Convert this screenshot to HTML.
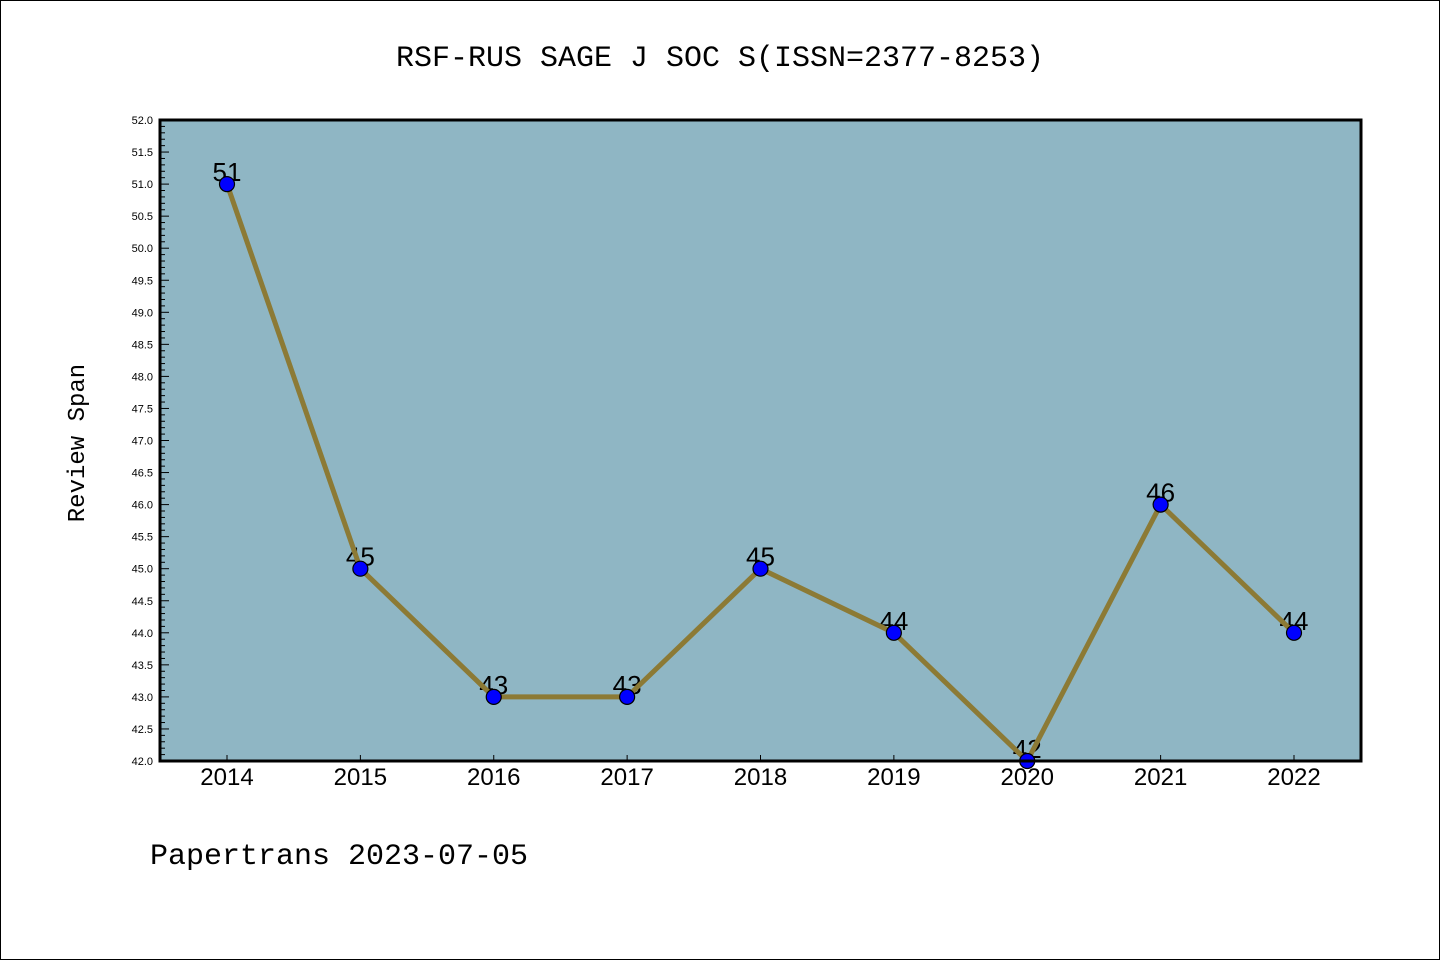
<!DOCTYPE html>
<html><head><meta charset="utf-8"><style>
body{margin:0;background:#fff;}
svg{display:block;font-family:"Liberation Sans","DejaVu Sans",sans-serif;}
</style></head><body>
<svg id="c" width="1440" height="960" viewBox="0 0 1440 960">
<rect x="0.5" y="0.5" width="1439" height="959" fill="#fff" stroke="#000" stroke-width="1"/>
<text x="720" y="66" text-anchor="middle" font-size="30" font-family="Liberation Mono, DejaVu Sans Mono, monospace">RSF-RUS SAGE J SOC S(ISSN=2377-8253)</text>
<rect x="160" y="120" width="1201" height="641" fill="#8fb6c4"/>
<g id="yaxis"></g>
<g id="xaxis"></g>
<g id="labels"></g>
<g id="series"></g>
<rect x="160" y="120" width="1201" height="641" fill="none" stroke="#000" stroke-width="3"/>
<text transform="translate(84,443) rotate(-90)" text-anchor="middle" font-size="24" font-family="Liberation Mono, DejaVu Sans Mono, monospace">Review Span</text>
<text x="150" y="864" font-size="30" font-family="Liberation Mono, DejaVu Sans Mono, monospace">Papertrans 2023-07-05</text>
</svg>
<script>
const years = [2014,2015,2016,2017,2018,2019,2020,2021,2022];
const values = [51,45,43,43,45,44,42,46,44];
const yMin = 42, yMax = 52;
const NS = "http://www.w3.org/2000/svg";
function sx(i){ return 227 + i*(1294-227)/(years.length-1); }
function sy(v){ return 761 - (v-yMin)*(641/(yMax-yMin)); }
function mk(tag, attrs, parent){ const e=document.createElementNS(NS,tag); for(const k in attrs) e.setAttribute(k,attrs[k]); parent.appendChild(e); return e; }
const ya=document.getElementById('yaxis');
for(let k=0;k<=100;k++){
  const v=yMin+k*0.1, y=sy(v), major=(k%5===0);
  const t=mk('line',{x1:160,x2:160+(major?9:5),y1:y,y2:y,stroke:'#000','stroke-width':1},ya);
  
  
  if(major){
    const l=mk('text',{x:153,y:y+4,'text-anchor':'end','font-size':11},ya);
    l.textContent=v.toFixed(1);
    
    
  }
}
const xa=document.getElementById('xaxis');
years.forEach((yr,i)=>{
  const t=mk('line',{x1:sx(i),x2:sx(i),y1:761,y2:755,stroke:'#000','stroke-width':1},xa);
  
  
  const l=mk('text',{x:sx(i),y:785,'text-anchor':'middle','font-size':24},xa);
  l.textContent=yr;
  
  
});
const lb=document.getElementById('labels');
values.forEach((v,i)=>{
  const l=mk('text',{x:sx(i),y:sy(v)-3,'text-anchor':'middle','font-size':26},lb);
  l.textContent=v;
  
  
});
const sr=document.getElementById('series');
const line=mk('polyline',{points:values.map((v,i)=>sx(i)+','+sy(v)).join(' '),fill:'none',stroke:'#8c7a35','stroke-width':5,'stroke-linejoin':'round'},sr);


values.forEach((v,i)=>{
  const c=mk('circle',{cx:sx(i),cy:sy(v),r:7.5,fill:'#0000ff',stroke:'#000','stroke-width':1.2},sr);
  
  
});
</script>
</body></html>
